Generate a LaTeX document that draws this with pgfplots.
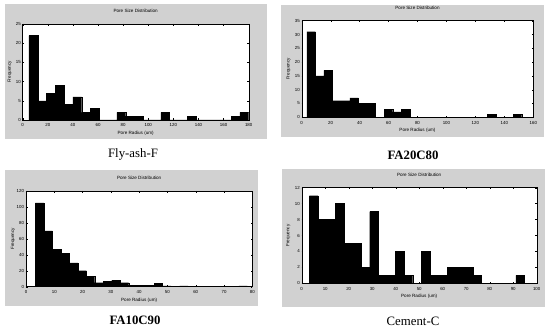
\documentclass[border=0pt]{standalone}
\usepackage{fontspec}
\setmainfont{Liberation Serif}
\setsansfont{Liberation Sans}
\usepackage{pgfplots}
\pgfplotsset{compat=1.18}
\definecolor{figgray}{gray}{0.82}
\pgfplotsset{
  mstyle/.style={
    scale only axis,
    anchor=south west,
    axis background/.style={fill=white},
    axis line style={black, line width=0.4pt},
    xmin=0, ymin=0,
    tick style={black, line width=0.3pt},
    major tick length=1.6pt,
    tick align=inside,
    minor tick num=0,
    font=\sffamily\fontsize{4.5}{5}\selectfont,
    tick label style={font=\sffamily\fontsize{4.4}{5}\selectfont},
    /pgf/number format/assume math mode=true,
    xticklabel style={inner sep=0pt, yshift=-3.5pt},
    yticklabel style={inner sep=0pt, xshift=-1.8pt},
    title={Pore Size Distribution},
    title style={at={(0.5,1)}, anchor=center, inner sep=0pt, yshift=7pt, font=\sffamily\fontsize{4.6}{5}\selectfont},
    xlabel={Pore Radius (um)},
    xlabel style={at={(axis description cs:0.5,0)}, anchor=center, inner sep=0pt, yshift=-13.5pt, font=\sffamily\fontsize{4.6}{5}\selectfont},
    ylabel={Frequency},
    ylabel style={at={(axis description cs:-0.057,0.5)}, anchor=center, inner sep=0pt, font=\sffamily\fontsize{4.6}{5}\selectfont},
    scaled ticks=false,
  },
  bars/.style={ybar interval, fill=black, draw=black, line width=0.3pt},
}
\begin{document}
\begin{tikzpicture}
\fill[white] (0pt,0pt) rectangle (550pt,-331pt);
\useasboundingbox (0pt,0pt) rectangle (550pt,-331pt);
\fill[figgray] (5pt,-4pt) rectangle (267pt,-139pt);
\fill[figgray] (281pt,-5pt) rectangle (544pt,-137pt);
\fill[figgray] (5pt,-170pt) rectangle (258pt,-306pt);
\fill[figgray] (282pt,-169pt) rectangle (545pt,-307pt);

% Panel 1: Fly-ash-F
\begin{axis}[mstyle, at={(22.7pt,-120pt)}, width=226pt, height=96pt,
  xmax=180, ymax=25, xtick={0,20,...,180}, ytick={0,5,...,25}]
\addplot[bars] coordinates {(5,22)(12,5)(19,7)(26,9)(33,4)(40,6)(47,2)(54,3)(61,0)(68,0)(75,2)(82,1)(89,1)(96,0)(103,0)(110,2)(117,0)(124,0)(131,1)(138,0)(145,0)(152,0)(159,0)(166,1)(173,2)(180,2)};
\end{axis}

% Panel 2: FA20C80
\begin{axis}[mstyle, at={(301.7pt,-117.3pt)}, width=231.6pt, height=96.6pt,
  xmax=160, ymax=35, xtick={0,20,...,160}, ytick={0,5,...,35}]
\addplot[bars] coordinates {(3.5,31)(9.44,15)(15.38,17)(21.32,6)(27.26,6)(33.2,7)(39.14,5)(45.08,5)(51.02,0)(56.96,3)(62.9,2)(68.84,3)(74.78,0)(80.72,0)(86.66,0)(92.6,0)(98.54,0)(104.48,0)(110.42,0)(116.36,0)(122.3,0)(128.24,1)(134.18,0)(140.12,0)(146.06,1)(152.0,1)};
\end{axis}

% Panel 3: FA10C90
\begin{axis}[mstyle, at={(26pt,-286.7pt)}, width=226.3pt, height=95.7pt,
  xmax=80, ymax=120, xtick={0,10,...,80}, ytick={0,20,...,120}]
\addplot[bars] coordinates {(3.3,105)(6.3,70)(9.3,47)(12.3,42)(15.3,30)(18.3,20)(21.3,13)(24.3,5)(27.3,7)(30.3,8)(33.3,5)(36.3,2)(39.3,2)(42.3,2)(45.3,4)(48.3,1)(51.3,0)(54.3,1)(57.3,0)(60.3,0)(63.3,0)(66.3,0)(69.3,0)(72.3,0)(75.3,1)(78.3,1)};
\end{axis}

% Panel 4: Cement-C
\begin{axis}[mstyle, at={(301.7pt,-283.3pt)}, width=235pt, height=95.6pt,
  xmax=100, ymax=12, xtick={0,10,...,100}, ytick={0,2,...,12}]
\addplot[bars] coordinates {(3.3,11)(6.96,8)(10.62,8)(14.28,10)(17.94,5)(21.6,5)(25.26,2)(28.92,9)(32.58,1)(36.24,1)(39.9,4)(43.56,1)(47.22,0)(50.88,4)(54.54,1)(58.2,1)(61.86,2)(65.52,2)(69.18,2)(72.84,1)(76.5,0)(80.16,0)(83.82,0)(87.48,0)(91.14,1)(94.8,1)};
\end{axis}

\node[font=\fontsize{12.8}{14}\selectfont] at (133pt,-154.3pt) {Fly-ash-F};
\node[font=\bfseries\fontsize{12.8}{14}\selectfont] at (413pt,-155pt) {FA20C80};
\node[font=\bfseries\fontsize{12.8}{14}\selectfont] at (135pt,-320.7pt) {FA10C90};
\node[font=\fontsize{12.8}{14}\selectfont] at (413pt,-321pt) {Cement-C};
\end{tikzpicture}
\end{document}
